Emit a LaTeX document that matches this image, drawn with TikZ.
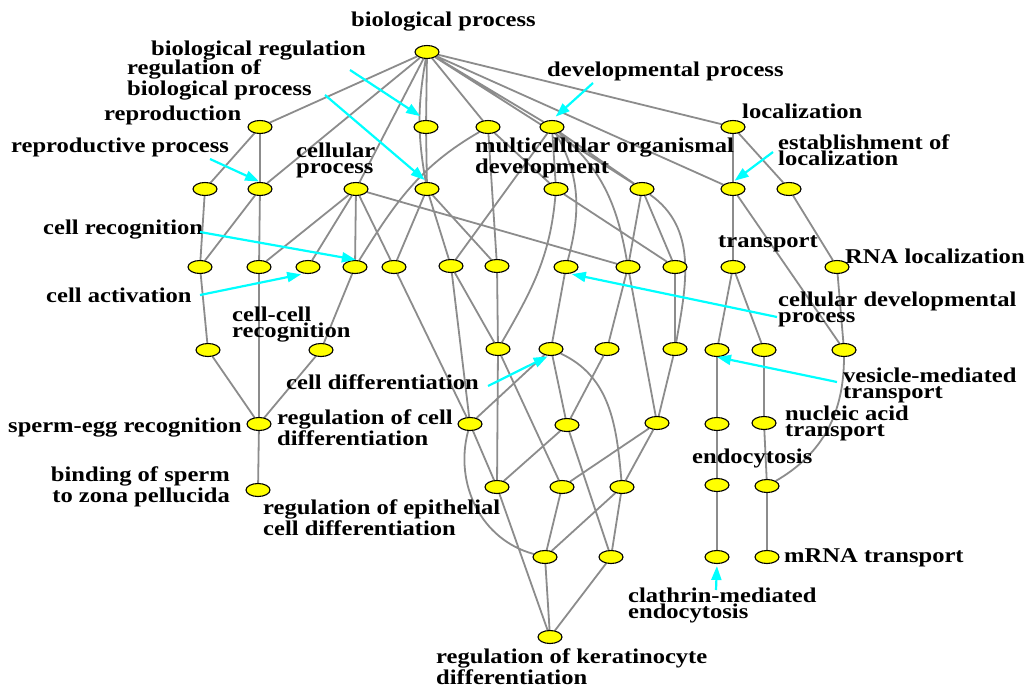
\documentclass[tikz,border=0pt]{standalone}
\usepackage{fontspec}
\newfontfamily\lblfont{Liberation Serif}[FakeStretch=1.17]
\usetikzlibrary{shapes.geometric,arrows.meta}
\pgfdeclarelayer{bg}
\pgfsetlayers{bg,main}
\begin{document}
\begin{tikzpicture}[x=1pt,y=-1pt,
  gonode/.style={ellipse,draw=black,line width=1.1pt,fill={rgb,255:red,255;green,255;blue,0},minimum width=24pt,minimum height=13pt,inner sep=0pt},
  edge/.style={draw={rgb,255:red,140;green,140;blue,140},line width=1.8pt},
  ann/.style={draw={rgb,255:red,0;green,255;blue,255},line width=2.2pt,-{Triangle[length=14pt,width=10pt]}},
  lbl/.style={font=\lblfont\bfseries\fontsize{21}{16}\selectfont,inner sep=0pt,anchor=base west,align=left},
  lblr/.style={lbl,anchor=base east,align=right}]
\useasboundingbox (0,0) rectangle (1026,688);
% nodes
\node[gonode] (A) at (427,52) {};
\node[gonode] (R1) at (260,127) {};
\node[gonode] (BR) at (426,127) {};
\node[gonode] (D1) at (488,127) {};
\node[gonode] (DP) at (552,127) {};
\node[gonode] (LOC) at (733,127) {};
\node[gonode] (N1) at (205,189) {};
\node[gonode] (RP) at (260,189) {};
\node[gonode] (CP) at (356,189) {};
\node[gonode] (RBP) at (427,189) {};
\node[gonode] (MOD) at (556,189) {};
\node[gonode] (N2) at (642,189) {};
\node[gonode] (EL) at (733,189) {};
\node[gonode] (N3) at (789,189) {};
\node[gonode] (N4) at (200,267) {};
\node[gonode] (N5) at (259,267) {};
\node[gonode] (CA) at (308,267) {};
\node[gonode] (CR) at (355,267) {};
\node[gonode] (N6) at (394,267) {};
\node[gonode] (N7) at (451,266) {};
\node[gonode] (N8) at (497,266) {};
\node[gonode] (CDP) at (566,267) {};
\node[gonode] (N9) at (628,267) {};
\node[gonode] (N10) at (675,267) {};
\node[gonode] (T) at (733,267) {};
\node[gonode] (RNA) at (837,267) {};
\node[gonode] (N11) at (208,350) {};
\node[gonode] (CCR) at (321,350) {};
\node[gonode] (N12) at (498,349) {};
\node[gonode] (CD) at (551,349) {};
\node[gonode] (N13) at (607,349) {};
\node[gonode] (N14) at (675,349) {};
\node[gonode] (VMT) at (717,350) {};
\node[gonode] (N15) at (764,350) {};
\node[gonode] (N16) at (844,350) {};
\node[gonode] (SER) at (259,424) {};
\node[gonode] (RCD) at (470,424) {};
\node[gonode] (N17) at (567,425) {};
\node[gonode] (N18) at (657,423) {};
\node[gonode] (N19) at (717,424) {};
\node[gonode] (NAT) at (764,423) {};
\node[gonode] (BSZ) at (258,490) {};
\node[gonode] (REC) at (497,487) {};
\node[gonode] (N20) at (562,487) {};
\node[gonode] (N21) at (622,487) {};
\node[gonode] (END) at (717,485) {};
\node[gonode] (N22) at (767,486) {};
\node[gonode] (N23) at (545,557) {};
\node[gonode] (N24) at (611,557) {};
\node[gonode] (CME) at (717,557) {};
\node[gonode] (MRNA) at (767,557) {};
\node[gonode] (RKD) at (550,637) {};
% edges
\begin{pgfonlayer}{bg}
\fill[white] (0,0) rectangle (1026,688);
\path[edge]
  (A) -- (R1) (A) -- (RP) (A) -- (CP) (A) to[out=-100,in=100] (RBP) (A) -- (BR)
  (A) -- (D1) (A) -- (DP) (A) -- (N2) (A) -- (EL) (A) -- (LOC)
  (R1) -- (N1) (R1) -- (RP) (BR) -- (RBP)
  (D1) to[out=-150,in=58] (CR) (D1) -- (N8) (D1) -- (MOD)
  (DP) -- (MOD) (DP) to[out=-60,in=75] (CDP) (DP) to[out=-40,in=100] (N9) (DP) -- (N2) (DP) -- (N7)
  (LOC) -- (EL) (LOC) -- (N3)
  (N1) -- (N4) (RP) -- (N4) (RP) -- (N5)
  (CP) -- (N5) (CP) -- (CA) (CP) -- (CR) (CP) -- (N6) (CP) -- (N9)
  (RBP) -- (N6) (RBP) -- (N7) (RBP) -- (N8)
  (MOD) to[out=-95,in=60] (N12) (MOD) -- (N10)
  (N2) -- (N9) (N2) -- (N10) (N2) to[out=-35,in=80] (N14)
  (EL) -- (T) (EL) -- (N16) (N3) -- (RNA)
  (N4) -- (N11) (N5) -- (SER) (CR) -- (CCR)
  (N6) -- (RCD) (N7) -- (N12) (N7) -- (RCD) (N8) -- (N12)
  (CDP) -- (CD) (N9) -- (N13) (N9) -- (N18) (N10) -- (N14)
  (T) -- (VMT) (T) -- (N15) (RNA) -- (N16)
  (N11) -- (SER) (CCR) -- (SER)
  (N12) -- (REC) (N12) -- (N20)
  (CD) -- (RCD) (CD) -- (N17) (CD) to[out=-25,in=95] (N21)
  (N13) -- (N17) (N14) -- (N18)
  (VMT) -- (N19) (N15) -- (NAT) (N16) to[out=-90,in=30] (N22)
  (SER) -- (BSZ)
  (RCD) -- (REC) (RCD) to[out=-105,in=165] (N23)
  (N17) -- (REC) (N17) -- (N24)
  (N18) -- (N20) (N18) -- (N21)
  (N19) -- (END) (NAT) -- (N22)
  (REC) -- (RKD) (N20) -- (N23) (N21) -- (N23) (N21) -- (N24)
  (END) -- (CME) (N22) -- (MRNA)
  (N23) -- (RKD) (N24) -- (RKD);
\end{pgfonlayer}
% labels
\node[lbl] (Lbp) at (351,26) {biological process};
\node[lbl] (Lbr) at (151,55) {biological regulation};
\node[lbl] (Lrbp) at (127,95) {regulation of\\biological process};
\node[lbl] (Lrep) at (104,120) {reproduction};
\node[lbl] (Lrp) at (11,152) {reproductive process};
\node[lbl] (Lcp) at (296,173) {cellular\\process};
\node[lbl] (Lmod) at (475,173) {multicellular organismal\\development};
\node[lbl] (Ldp) at (547,76) {developmental process};
\node[lbl] (Lloc) at (742,118) {localization};
\node[lbl] (Lel) at (778,165) {establishment of\\localization};
\node[lbl] (Lt) at (718,247) {transport};
\node[lbl] (Lrna) at (845,263) {RNA localization};
\node[lbl] (Lcdp) at (778,322) {cellular developmental\\process};
\node[lbl] (Lcr) at (43,234) {cell recognition};
\node[lbl] (Lca) at (46,302) {cell activation};
\node[lbl] (Lccr) at (232,337) {cell-cell\\recognition};
\node[lbl] (Lcd) at (286,389) {cell differentiation};
\node[lbl] (Lrcd) at (277,445) {regulation of cell\\differentiation};
\node[lblr] (Lser) at (242,432) {sperm-egg recognition};
\node[lblr] (Lbsz) at (230,502) {binding of sperm\\to zona pellucida};
\node[lbl] (Lrec) at (263,535) {regulation of epithelial\\cell differentiation};
\node[lbl] (Lnat) at (785,436) {nucleic acid\\transport};
\node[lbl] (Lend) at (692,463) {endocytosis};
\node[lbl] (Lvmt) at (843,398) {vesicle-mediated\\transport};
\node[lbl] (Lmrna) at (784,562) {mRNA transport};
\node[lbl] (Lcme) at (628,618) {clathrin-mediated\\endocytosis};
\node[lbl] (Lrkd) at (436,684) {regulation of keratinocyte\\differentiation};
% annotation arrows
\coordinate (sBR) at (350,70);
\coordinate (sRBP) at (325,95);
\coordinate (sRP) at (210,159);
\coordinate (sDP) at (593,83);
\coordinate (sEL) at (773,152);
\coordinate (sCR) at (200,232);
\coordinate (sCA) at (200,295);
\coordinate (sCDP) at (777,317);
\coordinate (sCD) at (488,386);
\coordinate (sVMT) at (837,382);
\coordinate (sCME) at (716,590);
\draw[ann,shorten >=7pt] (sBR) -- (BR.north);
\draw[ann,shorten >=3pt] (sRBP) -- (RBP.north);
\draw[ann,shorten >=1pt] (sRP) -- (RP.north);
\draw[ann,shorten >=5pt] (sDP) -- (DP.north);
\draw[ann,shorten >=2pt] (sEL) -- (EL.north);
\draw[ann,shorten >=3pt] (sCR) -- (CR.60);
\draw[ann,shorten >=3pt] (sCA) -- (CA.240);
\draw[ann,shorten >=2pt] (sCDP) -- (CDP.-60);
\draw[ann,shorten >=1pt] (sCD) -- (CD.250);
\draw[ann] (sVMT) -- (VMT.south);
\draw[ann,shorten >=2pt] (sCME) -- (CME.south);
\end{tikzpicture}
\end{document}
